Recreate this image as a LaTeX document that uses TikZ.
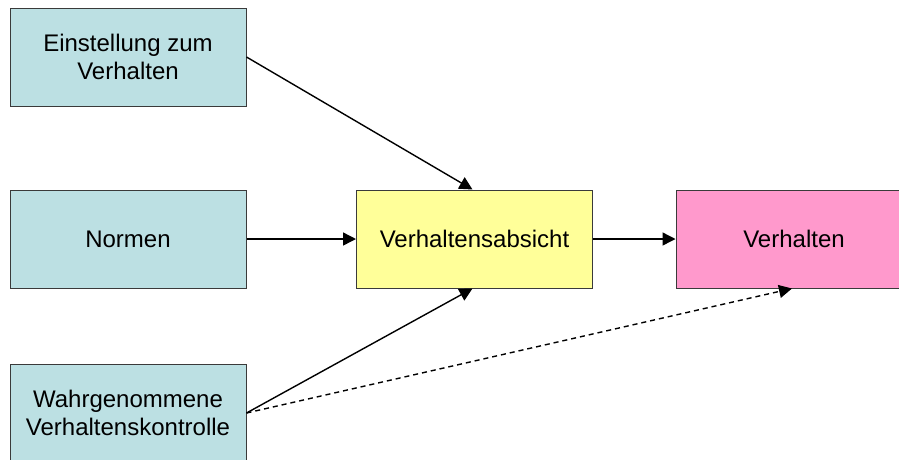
\documentclass[tikz,border=0pt]{standalone}
\usepackage{fontspec}
\setmainfont{Liberation Sans}
\usetikzlibrary{arrows.meta}
\definecolor{boxteal}{HTML}{BCE0E3}
\definecolor{boxyellow}{HTML}{FFFF99}
\definecolor{boxpink}{HTML}{FF99CC}
\definecolor{boxedge}{HTML}{3A3A3A}
\begin{document}
\begin{tikzpicture}[x=1pt,y=-1pt,
  box/.style={draw=boxedge,line width=1pt,minimum width=236pt,minimum height=98pt,
    inner sep=0pt,align=center,font=\fontsize{24}{28.5}\selectfont},
  link/.style={line width=1.4pt,-{Triangle[length=13pt,width=13pt]}}]
  \useasboundingbox (0,0) rectangle (899,459);
  \begin{scope}
    \clip (0,0) rectangle (899,459);
    \node[box,fill=boxteal] (att) at (128,57) {Einstellung zum\\Verhalten};
    \node[box,fill=boxteal] (norm) at (128,239) {Normen};
    \node[box,fill=boxteal] (ctrl) at (128,413) {Wahrgenommene\\Verhaltenskontrolle};
    \node[box,fill=boxyellow] (int) at (474.5,239) {Verhaltensabsicht};
    \node[box,fill=boxpink] (beh) at (794,239) {Verhalten};
  \end{scope}
  \coordinate (intTop) at ([xshift=-2pt]int.north);
  \coordinate (intBot) at ([xshift=-2pt]int.south);
  \coordinate (behBot) at ([xshift=-2pt]beh.south);
  \draw[link] (att.east |- 0,57) -- (intTop);
  \draw[link] (norm.east) -- (int.west);
  \draw[link] (ctrl.east) -- (intBot);
  \draw[link] (int.east) -- (beh.west);
  \draw[link,dashed,dash pattern=on 5pt off 4pt] (ctrl.east) -- (behBot);
\end{tikzpicture}
\end{document}
